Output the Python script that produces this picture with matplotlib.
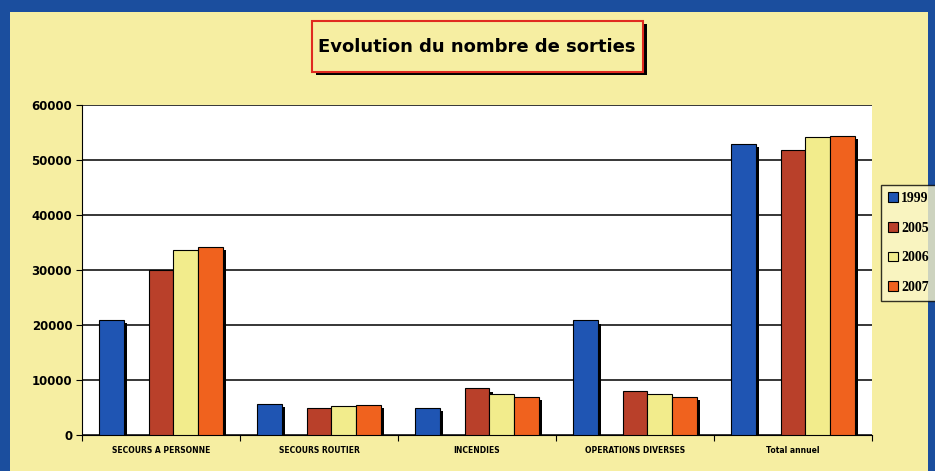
import matplotlib
matplotlib.use("Agg")
import matplotlib.pyplot as plt
from matplotlib.patches import Rectangle
import numpy as np

categories = ["SECOURS A PERSONNE", "SECOURS ROUTIER", "INCENDIES",
              "OPERATIONS DIVERSES", "Total annuel"]
years = ["1999", "2005", "2006", "2007"]
v1999 = [20900, 5700, 5000, 20850, 53000]
v2005 = [30000, 5000, 8500, 8000, 51800]
v2006 = [33600, 5200, 7500, 7400, 54200]
v2007 = [34200, 5450, 7000, 7000, 54400]
series = [v1999, v2005, v2006, v2007]
colors = ["#1f55b3", "#b9402a", "#f2ec8c", "#f0621e"]
slots = [0, 2, 3, 4]  # slot 1 vide (ecart entre 1999 et 2005)

BG = "#f6eea2"
BORDER = "#1b4e9e"

fig = plt.figure(figsize=(9.35, 4.71), dpi=100)
fig.patch.set_facecolor(BORDER)
# fond jaune a l'interieur du cadre bleu
fig.add_artist(Rectangle((10 / 935, 0), 918 / 935, 459 / 471,
                         transform=fig.transFigure, facecolor=BG, edgecolor="none", zorder=0))

ax = fig.add_axes([82 / 935, 1 - 435 / 471, 790 / 935, 330 / 471])
ax.set_facecolor("white")

x = np.arange(len(categories))
w = 0.157
for vals, col, s, yr in zip(series, colors, slots, years):
    pos = x - 2.5 * w + (s + 0.5) * w
    # ombre noire decalee a droite
    ax.bar(pos + 0.022, np.array(vals) - 600, w, color="black", zorder=2)
    ax.bar(pos, vals, w, color=col, edgecolor="black", linewidth=0.8, zorder=3, label=yr)

ax.set_xlim(-0.5, len(categories) - 0.5)
ax.set_ylim(0, 60000)
ax.set_yticks(range(0, 60001, 10000))
ax.yaxis.grid(True, color="black", linewidth=1.1, zorder=1)
ax.set_axisbelow(True)
ax.set_xticks(np.arange(-0.5, len(categories) - 0.4, 1.0))
ax.set_xticklabels([])
ax.set_xticks(x, minor=True)
ax.set_xticklabels(categories, minor=True, fontsize=5.5, fontweight="bold")
ax.tick_params(axis="x", which="minor", length=0, pad=8)
ax.tick_params(axis="x", which="major", length=4)
for lab in ax.get_yticklabels():
    lab.set_fontweight("bold")
    lab.set_fontsize(8.5)
ax.tick_params(axis="y", length=4, pad=3)
for side in ["top", "right"]:
    ax.spines[side].set_visible(False)

leg = fig.legend(loc="upper left", bbox_to_anchor=(881 / 935, 1 - 185 / 471),
                 frameon=True, fancybox=False, handlelength=0.7, handleheight=0.7,
                 handletextpad=0.25, labelspacing=1.2, borderpad=0.5, borderaxespad=0,
                 prop={"family": "Liberation Serif", "weight": "bold", "size": 10})
leg.get_frame().set_edgecolor("black")
leg.get_frame().set_facecolor("#fbf6c8")
leg.get_frame().set_linewidth(1.0)

# titre dans un cadre rouge avec ombre
fig.add_artist(Rectangle((316 / 935, 1 - 75 / 471), 331 / 935, 51 / 471,
                         transform=fig.transFigure, facecolor="black", edgecolor="none", zorder=4))
fig.add_artist(Rectangle((312 / 935, 1 - 72 / 471), 331 / 935, 51 / 471,
                         transform=fig.transFigure, facecolor=BG, edgecolor="#e02a20",
                         linewidth=1.5, zorder=5))
fig.text(477 / 935, 1 - 47 / 471, "Evolution du nombre de sorties", ha="center", va="center",
         fontsize=13, fontweight="bold", zorder=6)

fig.savefig("out.png", dpi=100, facecolor=fig.get_facecolor())
